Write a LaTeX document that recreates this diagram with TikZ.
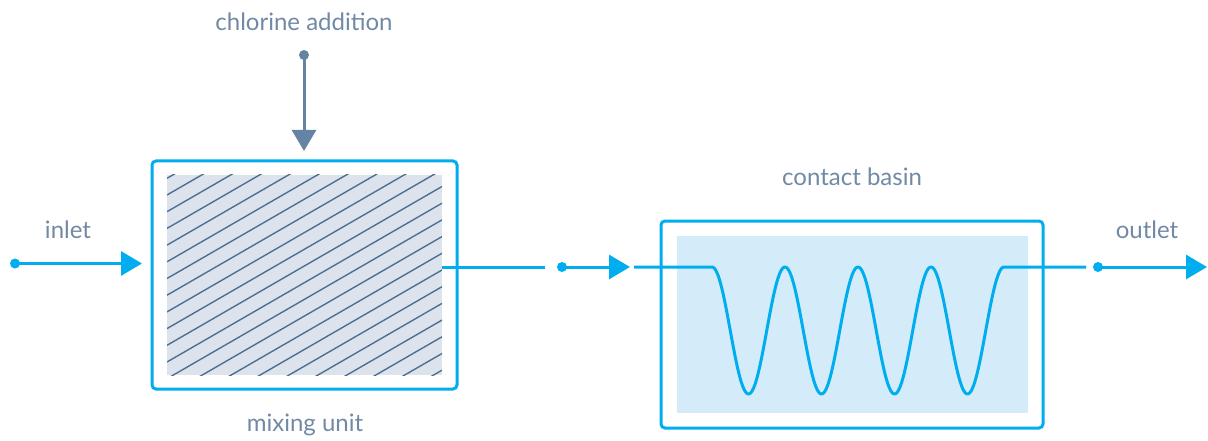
\documentclass[tikz,border=0pt]{standalone}
\usepackage{fontspec}
\setmainfont{Lato}
\usetikzlibrary{arrows.meta}
\definecolor{cyanline}{HTML}{00AEEF}
\definecolor{slate}{HTML}{6584A3}
\definecolor{labeltxt}{HTML}{7189A5}
\definecolor{hatchfill}{HTML}{DDE3EC}
\definecolor{hatchline}{HTML}{4E6F91}
\definecolor{basinfill}{HTML}{D4ECF9}
\tikzset{
  lbl/.style={text=labeltxt, font=\fontsize{24}{28}\selectfont, inner sep=0pt, anchor=center},
  flow/.style={draw=cyanline, line width=3pt},
  flowarrow/.style={flow, -{Triangle[length=21pt,width=24pt]}},
  cl/.style={draw=slate, line width=3pt, -{Triangle[length=21pt,width=24pt]}},
  unitbox/.style={draw=cyanline, line width=3pt, rounded corners=4pt},
  dotc/.style={fill=cyanline},
  dots/.style={fill=slate},
}
\begin{document}
\begin{tikzpicture}[x=1pt,y=-1pt]
\useasboundingbox (0,0) rectangle (1208,441);
% mixing unit
\fill[hatchfill] (167,175) rectangle (442,375);
\begin{scope}
  \clip (167,175) rectangle (442,375);
  \foreach \k in {0,...,21}{
    \draw[hatchline, line width=1.4pt] (167,{178.3+16.7*\k}) -- (442,{178.3+16.7*\k-158.8});
  }
\end{scope}
\node[unitbox, minimum width=305pt, minimum height=228pt, inner sep=0pt] (mix) at (304.5,275) {};
\coordinate (mixout) at (442,267);
% contact basin
\fill[basinfill] (677,236) rectangle (1028,412.7);
\node[unitbox, minimum width=382pt, minimum height=207pt, inner sep=0pt] (basin) at (852,324.5) {};
% labels
\node[lbl] (tchl) at (304,22) {chlorine addition};
\node[lbl] (tin) at (68,230) {inlet};
\node[lbl] (tout) at (1147,230) {outlet};
\node[lbl] (tbasin) at (852,177) {contact basin};
\node[lbl] (tmix) at (305,425) {mixing unit};
% chlorine
\coordinate (chldot) at (304,55);
\coordinate (chltip) at (304,151);
\draw[cl] (chldot) -- (chltip);
\fill[dots] (chldot) circle (5pt);
% inlet
\coordinate (indot) at (15,263.5);
\coordinate (intip) at (142,263.5);
\draw[flowarrow] (indot) -- (intip);
\fill[dotc] (indot) circle (5pt);
% middle
\coordinate (mid1) at (545,267);
\coordinate (middot) at (562,267);
\coordinate (midtip) at (630,267);
\coordinate (wavein) at (634,267);
\coordinate (wavestart) at (712,267);
\coordinate (waveend) at (1004,267);
\coordinate (outend) at (1086,267);
\coordinate (outdot) at (1098,267);
\coordinate (outtip) at (1207,267);
\draw[flow] (mixout) -- (mid1);
\draw[flowarrow] (middot) -- (midtip);
\fill[dotc] (middot) circle (5pt);
% wave
\draw[flow, line join=round] (wavein) -- (wavestart)
  -- plot[domain=0:292, samples=240, smooth] ({712+\x},{330.5-63.5*cos(\x/73*360)})
  -- (outend);
\draw[flowarrow] (outdot) -- (outtip);
\fill[dotc] (outdot) circle (5pt);
\end{tikzpicture}
\end{document}
